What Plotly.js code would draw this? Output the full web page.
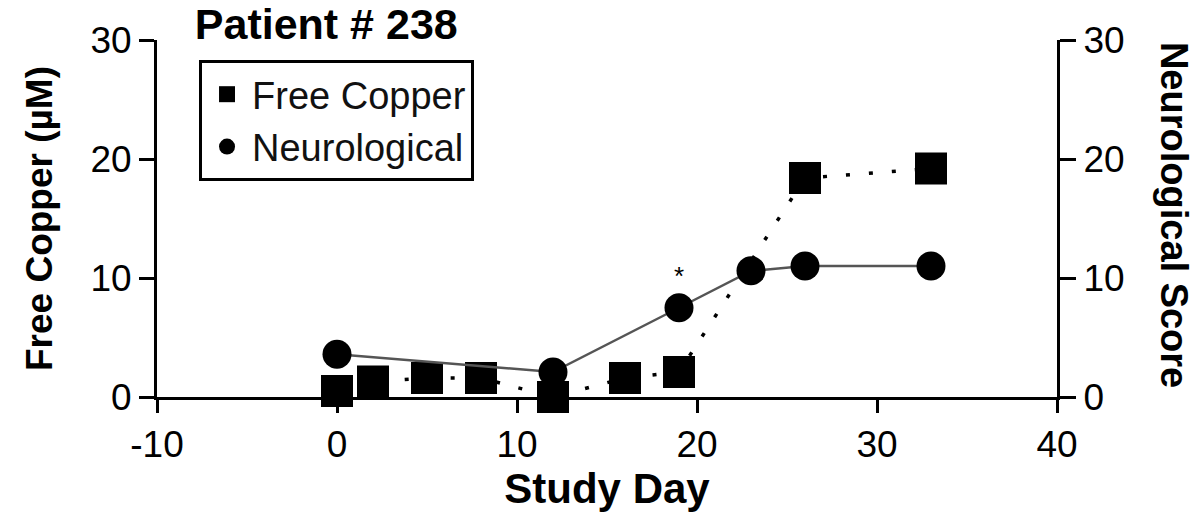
<!DOCTYPE html>
<html>
<head>
<meta charset="utf-8">
<script src="https://cdn.plot.ly/plotly-3.0.1.min.js"></script>
<style>html,body{margin:0;padding:0;background:#fff;}</style>
</head>
<body>
<div id="chart" style="width:1203px;height:512px;"></div>
<script>
// ---- data ----
const copperDays = [0, 2, 5, 8, 12, 16, 19, 26, 33];
const freeCopper = [0.5, 1.3, 1.6, 1.6, 0.0, 1.6, 2.1, 18.4, 19.2];
const neuroDays = [0, 12, 19, 23, 26, 33];
const neuroScore = [3.6, 2.1, 7.5, 10.6, 11.0, 11.0];
const xTickVals = [-10, 0, 10, 20, 30, 40];
const xTickText = ['-10', '0', '10', '20', '30', '40'];
const yTickVals = [0, 10, 20, 30];
const yTickText = ['0', '10', '20', '30'];
const starDay = [19];
const starScore = [10.2];

const FONT = 'Arial, "Liberation Sans", Helvetica, sans-serif';

const traces = [
  {x: neuroDays, y: neuroScore, yaxis: 'y2', mode: 'lines', showlegend: false,
   line: {color: '#555', width: 2.5}, hoverinfo: 'skip'},
  {x: copperDays, y: freeCopper, mode: 'lines', showlegend: false,
   line: {color: '#000', width: 3.5, dash: '4px,19px'}, hoverinfo: 'skip'},
  {x: copperDays, y: freeCopper, mode: 'markers', name: 'Free Copper',
   legendgroup: 'a', cliponaxis: false,
   marker: {symbol: 'square', size: 32, color: '#000', line: {width: 0}}},
  {x: neuroDays, y: neuroScore, yaxis: 'y2', mode: 'markers', name: 'Neurological',
   legendgroup: 'b', cliponaxis: false,
   marker: {symbol: 'circle', size: 29, color: '#000', line: {width: 0}}}
];

const axisCommon = {
  showline: true, linecolor: '#000', linewidth: 3,
  ticks: 'outside', tickcolor: '#000', tickwidth: 3,
  showgrid: false, zeroline: false,
  tickfont: {family: FONT, size: 37, color: '#000'}
};

const layout = {
  width: 1203, height: 512,
  margin: {l: 157, r: 146, t: 40, b: 115},
  paper_bgcolor: '#fff', plot_bgcolor: '#fff',
  font: {family: FONT, color: '#000'},
  title: {
    text: 'Patient # 238',
    font: {family: FONT, size: 43, weight: 'bold', color: '#000'},
    xref: 'paper', x: 0.042, xanchor: 'left',
    yref: 'container', y: 0.953, yanchor: 'middle'
  },
  xaxis: Object.assign({}, axisCommon, {
    range: [-10, 40], tickvals: xTickVals, ticktext: xTickText, ticklen: 13,
    title: {text: 'Study Day', standoff: 14,
            font: {family: FONT, size: 42, weight: 'bold', color: '#000'}}
  }),
  yaxis: Object.assign({}, axisCommon, {
    range: [0, 30], tickvals: yTickVals, ticktext: yTickText, ticklen: 15,
    title: {text: 'Free Copper (µM)', standoff: 27,
            font: {family: FONT, size: 37, weight: 'bold', color: '#000'}}
  }),
  yaxis2: Object.assign({}, axisCommon, {
    range: [0, 30], tickvals: yTickVals, ticktext: yTickText, ticklen: 16,
    overlaying: 'y', side: 'right'
  }),
  legend: {
    x: 0.0467, y: 0.944, xanchor: 'left', yanchor: 'top',
    bordercolor: '#000', borderwidth: 3, bgcolor: '#fff',
    font: {family: FONT, size: 38, color: '#111'},
    tracegroupgap: 0, itemwidth: 40
  },
  annotations: [
    {text: 'Neurological Score', textangle: 90, showarrow: false,
     xref: 'paper', yref: 'paper', x: 1.13, y: 0.51, xanchor: 'center', yanchor: 'middle',
     font: {family: FONT, size: 38, weight: 'bold', color: '#000'}},
    {text: '*', showarrow: false, x: starDay[0], y: starScore[0], xref: 'x', yref: 'y2',
     xanchor: 'center', yanchor: 'middle',
     font: {family: FONT, size: 26, color: '#000'}}
  ],
  showlegend: true
};

Plotly.newPlot('chart', traces, layout, {staticPlot: true, displayModeBar: false});
</script>
</body>
</html>
